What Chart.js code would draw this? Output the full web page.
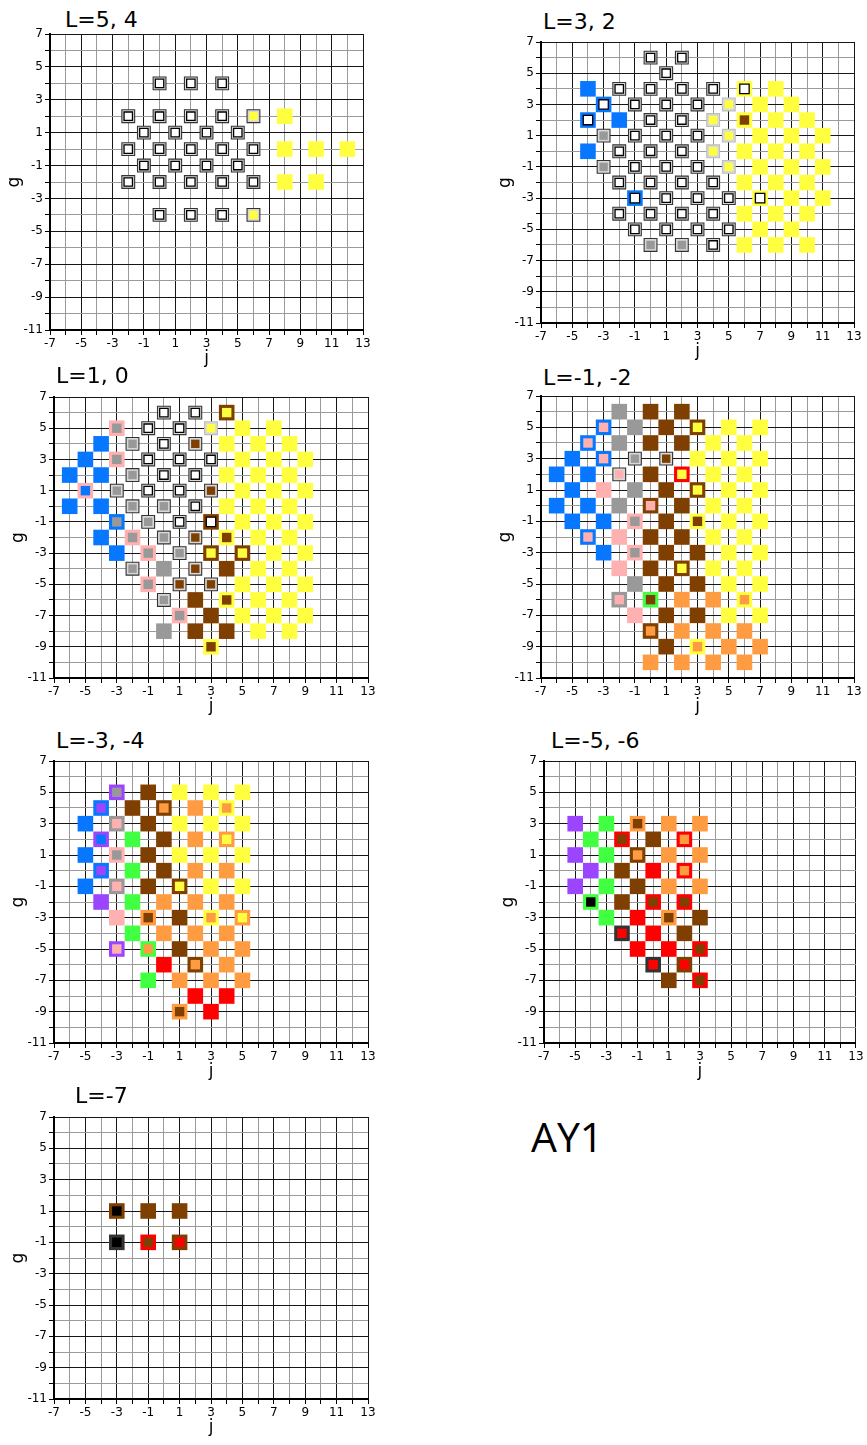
<!DOCTYPE html>
<html>
<head>
<meta charset="utf-8">
<script src="https://cdn.jsdelivr.net/npm/chart.js@4/dist/chart.umd.min.js"></script>
<style>
  html, body { margin: 0; padding: 0; background: #fff; }
  body { position: relative; width: 867px; height: 1445px; overflow: hidden; font-family: 'DejaVu Sans', sans-serif; }
  .ttl { position: absolute; font: 22px 'DejaVu Sans', sans-serif; line-height: 22px; white-space: nowrap; color: #000; }
  #tag { position: absolute; left: 531px; top: 1116px; font: 41px 'Open Sans', sans-serif; line-height: 41px; color: #000; }
</style>
</head>
<body>
<div id="tag">AY1</div>
<script>
// Each entry: [j, g, code]; code = ring colour + inner colour.
// W = white marker (outlined), w = white ring with a light outline.
const L5_4 = [
  [0,4,'WW'],[2,4,'WW'],[4,4,'WW'],
  [-2,2,'WW'],[0,2,'WW'],[2,2,'WW'],[4,2,'WW'],[6,2,'WY'],[8,2,'YY'],
  [-1,1,'WW'],[1,1,'WW'],[3,1,'WW'],[5,1,'WW'],
  [-2,0,'WW'],[0,0,'WW'],[2,0,'WW'],[4,0,'WW'],[6,0,'WW'],[8,0,'YY'],[10,0,'YY'],[12,0,'YY'],
  [-1,-1,'WW'],[1,-1,'WW'],[3,-1,'WW'],[5,-1,'WW'],
  [-2,-2,'WW'],[0,-2,'WW'],[2,-2,'WW'],[4,-2,'WW'],[6,-2,'WW'],[8,-2,'YY'],[10,-2,'YY'],
  [0,-4,'WW'],[2,-4,'WW'],[4,-4,'WW'],[6,-4,'WY']
];

const L3_2 = [
  [0,6,'WW'],[2,6,'WW'],
  [1,5,'WW'],
  [-4,4,'BB'],[-2,4,'WW'],[0,4,'WW'],[2,4,'WW'],[4,4,'WW'],[6,4,'YW'],[8,4,'YY'],
  [-3,3,'BW'],[-1,3,'WW'],[1,3,'WW'],[3,3,'WW'],[5,3,'wY'],[7,3,'YY'],[9,3,'YY'],
  [-4,2,'BW'],[-2,2,'BB'],[0,2,'WW'],[2,2,'WW'],[4,2,'wY'],[6,2,'YN'],[8,2,'YY'],[10,2,'YY'],
  [-3,1,'WG'],[-1,1,'WW'],[1,1,'WW'],[3,1,'WW'],[5,1,'wY'],[7,1,'YY'],[9,1,'YY'],[11,1,'YY'],
  [-4,0,'BB'],[-2,0,'WW'],[0,0,'WW'],[2,0,'WW'],[4,0,'wY'],[6,0,'YY'],[8,0,'YY'],[10,0,'YY'],
  [-3,-1,'WG'],[-1,-1,'WW'],[1,-1,'WW'],[3,-1,'WW'],[5,-1,'wY'],[7,-1,'YY'],[9,-1,'YY'],[11,-1,'YY'],
  [-2,-2,'WW'],[0,-2,'WW'],[2,-2,'WW'],[4,-2,'WW'],[6,-2,'YY'],[8,-2,'YY'],[10,-2,'YY'],
  [-1,-3,'BW'],[1,-3,'WW'],[3,-3,'WW'],[5,-3,'WW'],[7,-3,'YW'],[9,-3,'YY'],[11,-3,'YY'],
  [-2,-4,'WW'],[0,-4,'WW'],[2,-4,'WW'],[4,-4,'WW'],[6,-4,'YY'],[8,-4,'YY'],[10,-4,'YY'],
  [-1,-5,'WW'],[1,-5,'WW'],[3,-5,'WW'],[5,-5,'WW'],[7,-5,'YY'],[9,-5,'YY'],
  [0,-6,'WG'],[2,-6,'WG'],[4,-6,'WW'],[6,-6,'YY'],[8,-6,'YY'],[10,-6,'YY']
];

const L1_0 = [
  [0,6,'WW'],[2,6,'WW'],[4,6,'NY'],
  [-3,5,'PG'],[-1,5,'WW'],[1,5,'WW'],[3,5,'wY'],[5,5,'YY'],[7,5,'YY'],
  [-4,4,'BB'],[-2,4,'WG'],[0,4,'WW'],[2,4,'WN'],[4,4,'YY'],[6,4,'YY'],[8,4,'YY'],
  [-5,3,'BB'],[-3,3,'PG'],[-1,3,'WW'],[1,3,'WW'],[3,3,'WW'],[5,3,'YY'],[7,3,'YY'],[9,3,'YY'],
  [-6,2,'BB'],[-4,2,'BB'],[-2,2,'WG'],[0,2,'WW'],[2,2,'WW'],[4,2,'YY'],[6,2,'YY'],[8,2,'YY'],
  [-5,1,'PB'],[-3,1,'WG'],[-1,1,'WW'],[1,1,'WW'],[3,1,'WN'],[5,1,'YY'],[7,1,'YY'],[9,1,'YY'],
  [-6,0,'BB'],[-4,0,'BB'],[-2,0,'WG'],[0,0,'WG'],[2,0,'WW'],[4,0,'YY'],[6,0,'YY'],[8,0,'YY'],
  [-3,-1,'BG'],[-1,-1,'WG'],[1,-1,'WW'],[3,-1,'NW'],[5,-1,'YY'],[7,-1,'YY'],[9,-1,'YY'],
  [-4,-2,'BB'],[-2,-2,'PG'],[0,-2,'WG'],[2,-2,'WN'],[4,-2,'YN'],[6,-2,'YY'],[8,-2,'YY'],
  [-3,-3,'BB'],[-1,-3,'PG'],[1,-3,'WG'],[3,-3,'NY'],[5,-3,'NY'],[7,-3,'YY'],[9,-3,'YY'],
  [-2,-4,'WG'],[0,-4,'GG'],[2,-4,'WN'],[4,-4,'NN'],[6,-4,'YY'],[8,-4,'YY'],
  [-1,-5,'PG'],[1,-5,'WN'],[3,-5,'WN'],[5,-5,'YY'],[7,-5,'YY'],[9,-5,'YY'],
  [0,-6,'WG'],[2,-6,'NN'],[4,-6,'YN'],[6,-6,'YY'],[8,-6,'YY'],
  [1,-7,'PG'],[3,-7,'NN'],[5,-7,'YY'],[7,-7,'YY'],[9,-7,'YY'],
  [0,-8,'GG'],[2,-8,'NN'],[4,-8,'NN'],[6,-8,'YY'],[8,-8,'YY'],
  [3,-9,'YN']
];

const Lm1_m2 = [
  [-2,6,'GG'],[0,6,'NN'],[2,6,'NN'],
  [-3,5,'BP'],[-1,5,'GG'],[1,5,'NN'],[3,5,'NY'],[5,5,'YY'],[7,5,'YY'],
  [-4,4,'BP'],[-2,4,'GG'],[0,4,'NN'],[2,4,'NN'],[4,4,'YY'],[6,4,'YY'],
  [-5,3,'BB'],[-3,3,'BP'],[-1,3,'WG'],[1,3,'WN'],[3,3,'YY'],[5,3,'YY'],[7,3,'YY'],
  [-6,2,'BB'],[-4,2,'BB'],[-2,2,'WP'],[0,2,'NN'],[2,2,'RY'],[4,2,'YY'],[6,2,'YY'],
  [-5,1,'BB'],[-3,1,'PP'],[-1,1,'GG'],[1,1,'NN'],[3,1,'NY'],[5,1,'YY'],[7,1,'YY'],
  [-6,0,'BB'],[-4,0,'BB'],[-2,0,'GG'],[0,0,'NP'],[2,0,'NN'],[4,0,'YY'],[6,0,'YY'],
  [-5,-1,'BB'],[-3,-1,'BB'],[-1,-1,'PG'],[1,-1,'NN'],[3,-1,'YN'],[5,-1,'YY'],[7,-1,'YY'],
  [-4,-2,'BP'],[-2,-2,'PP'],[0,-2,'NN'],[2,-2,'NN'],[4,-2,'YY'],[6,-2,'YY'],
  [-3,-3,'BB'],[-1,-3,'PG'],[1,-3,'NN'],[3,-3,'NN'],[5,-3,'YY'],[7,-3,'YY'],
  [-2,-4,'PP'],[0,-4,'NN'],[2,-4,'NY'],[4,-4,'YY'],[6,-4,'YY'],
  [-1,-5,'GG'],[1,-5,'NN'],[3,-5,'NN'],[5,-5,'YY'],[7,-5,'YY'],
  [-2,-6,'GP'],[0,-6,'EN'],[2,-6,'OO'],[4,-6,'OO'],[6,-6,'YO'],
  [-1,-7,'PP'],[1,-7,'NN'],[3,-7,'NN'],[5,-7,'YY'],[7,-7,'YY'],
  [0,-8,'NO'],[2,-8,'OO'],[4,-8,'OO'],[6,-8,'OO'],
  [1,-9,'NN'],[3,-9,'YO'],[5,-9,'OO'],[7,-9,'OO'],
  [0,-10,'OO'],[2,-10,'OO'],[4,-10,'OO'],[6,-10,'OO']
];

const Lm3_m4 = [
  [-3,5,'VG'],[-1,5,'NN'],[1,5,'YY'],[3,5,'YY'],[5,5,'YY'],
  [-4,4,'BV'],[-2,4,'NN'],[0,4,'NO'],[2,4,'OO'],[4,4,'YO'],
  [-5,3,'BB'],[-3,3,'GP'],[-1,3,'NN'],[1,3,'YY'],[3,3,'YY'],[5,3,'YY'],
  [-4,2,'VB'],[-2,2,'EE'],[0,2,'NN'],[2,2,'OO'],[4,2,'OY'],
  [-5,1,'BB'],[-3,1,'PG'],[-1,1,'NN'],[1,1,'YY'],[3,1,'YY'],[5,1,'YY'],
  [-4,0,'BV'],[-2,0,'EE'],[0,0,'NN'],[2,0,'OO'],[4,0,'OO'],
  [-5,-1,'BB'],[-3,-1,'GP'],[-1,-1,'NN'],[1,-1,'NY'],[3,-1,'YY'],[5,-1,'YY'],
  [-4,-2,'VV'],[-2,-2,'EE'],[0,-2,'OO'],[2,-2,'OO'],[4,-2,'OO'],
  [-3,-3,'PP'],[-1,-3,'ON'],[1,-3,'NN'],[3,-3,'YO'],[5,-3,'OY'],
  [-2,-4,'EE'],[0,-4,'OO'],[2,-4,'OO'],[4,-4,'OO'],
  [-3,-5,'VP'],[-1,-5,'EO'],[1,-5,'NN'],[3,-5,'OO'],[5,-5,'OO'],
  [0,-6,'RR'],[2,-6,'NO'],[4,-6,'OO'],
  [-1,-7,'EE'],[1,-7,'OO'],[3,-7,'OO'],[5,-7,'OO'],
  [2,-8,'RR'],[4,-8,'RR'],
  [1,-9,'ON'],[3,-9,'RR']
];

const Lm5_m6 = [
  [-5,3,'VV'],[-3,3,'EE'],[-1,3,'ON'],[1,3,'OO'],[3,3,'OO'],
  [-4,2,'EE'],[-2,2,'RN'],[0,2,'NN'],[2,2,'RO'],
  [-5,1,'VV'],[-3,1,'EE'],[-1,1,'NO'],[1,1,'OO'],[3,1,'OO'],
  [-4,0,'VV'],[-2,0,'NN'],[0,0,'RR'],[2,0,'RO'],
  [-5,-1,'VV'],[-3,-1,'EE'],[-1,-1,'NN'],[1,-1,'OO'],[3,-1,'OO'],
  [-4,-2,'EK'],[-2,-2,'NN'],[0,-2,'RN'],[2,-2,'RN'],
  [-3,-3,'EE'],[-1,-3,'RR'],[1,-3,'ON'],[3,-3,'NN'],
  [-2,-4,'DR'],[0,-4,'RR'],[2,-4,'NN'],
  [-1,-5,'RR'],[1,-5,'RR'],[3,-5,'RN'],
  [0,-6,'DR'],[2,-6,'NR'],
  [1,-7,'NN'],[3,-7,'RN']
];

const Lm7 = [
  [-3,1,'NK'],[-1,1,'NN'],[1,1,'NN'],
  [-3,-1,'DK'],[-1,-1,'RN'],[1,-1,'NR']
];

// Axis extents
const J_MIN = -7, J_MAX = 13;
const G_MIN = -11, G_MAX = 7;

const PALETTE = {
  W: '#ffffff', G: '#999999', Y: '#ffff3f', B: '#0877ff', N: '#7f3f00',
  P: '#ffb0b0', O: '#ff9c42', R: '#ff0000', V: '#9b45ff', E: '#41ff41',
  K: '#000000', D: '#333333'
};

// Panel layout: plot rectangle [left, top, right, bottom] and title anchor
const PANELS = [
  { title: 'L=5, 4',   pts: L5_4,   plot: [50, 34, 363, 330],    tx: 65,  ty: 9 },
  { title: 'L=3, 2',   pts: L3_2,   plot: [541, 42, 854, 323],   tx: 543, ty: 11 },
  { title: 'L=1, 0',   pts: L1_0,   plot: [54, 397, 368, 678],   tx: 56,  ty: 365 },
  { title: 'L=-1, -2', pts: Lm1_m2, plot: [541, 396, 854, 678],  tx: 543, ty: 367 },
  { title: 'L=-3, -4', pts: Lm3_m4, plot: [54, 761, 368, 1043],  tx: 56,  ty: 730 },
  { title: 'L=-5, -6', pts: Lm5_m6, plot: [544, 761, 858, 1043], tx: 551, ty: 730 },
  { title: 'L=-7',     pts: Lm7,    plot: [54, 1117, 368, 1399], tx: 75,  ty: 1085 }
];

const PAD_TOP = 12, Y_AXIS_W = 50, X_AXIS_H = 42;
// square side lengths in px; Chart.js 'rect' radius r gives a side of r*sqrt(2)
const SIDE_PLAIN = 15.6, SIDE_RING_INNER = 9.4, SIDE_W_OUTER = 12.8, SIDE_W_INNER = 8.4;
const rad = s => s / Math.SQRT2;

function markerLayers(pts) {
  const outer = { data: [], r: [], bg: [], bc: [], bw: [] };
  const inner = { data: [], r: [], bg: [], bc: [], bw: [] };
  pts.forEach(([j, g, code]) => {
    const ring = code[0], fill = code[1];
    const whiteRing = ring === 'W' || ring === 'w';
    outer.data.push({ x: j, y: g });
    if (whiteRing) {
      outer.r.push(rad(SIDE_W_OUTER));
      outer.bg.push('#d8d8d8');
      outer.bc.push(ring === 'W' ? '#333333' : '#bdbdbd');
      outer.bw.push(1.1);
    } else {
      outer.r.push(rad(SIDE_PLAIN));
      outer.bg.push(PALETTE[ring]);
      outer.bc.push(PALETTE[ring]);
      outer.bw.push(0);
    }
    if (whiteRing || ring !== fill) {
      inner.data.push({ x: j, y: g });
      inner.r.push(rad(whiteRing ? SIDE_W_INNER : SIDE_RING_INNER));
      inner.bg.push(PALETTE[fill]);
      inner.bc.push('#000000');
      inner.bw.push(fill === 'W' ? 1.3 : 0);
    }
  });
  return { outer, inner };
}

const isOdd = v => Math.abs(Math.round(v)) % 2 === 1;
const gridColor = ctx => (ctx.tick && isOdd(ctx.tick.value)) ? '#161616' : '#9a9a9a';
const tickFont = { family: 'DejaVu Sans', size: 12 };
const titleFont = { family: 'DejaVu Sans', size: 17 };

function axis(min, max, extra) {
  return Object.assign({
    type: 'linear', min, max,
    ticks: {
      stepSize: 1, autoSkip: false, maxRotation: 0, padding: 2, color: '#000', font: tickFont,
      callback: v => isOdd(v) ? String(v) : ''
    },
    grid: { color: gridColor, lineWidth: 1, tickLength: 5, tickColor: '#000', tickWidth: 1 },
    border: { display: true, color: '#000', width: 2 }
  }, extra);
}

PANELS.forEach(p => {
  const [L, T, R, B] = p.plot;
  const padR = Math.min(12, 867 - R);

  const t = document.createElement('div');
  t.className = 'ttl';
  t.style.left = p.tx + 'px';
  t.style.top = p.ty + 'px';
  t.textContent = p.title;
  document.body.appendChild(t);

  const cv = document.createElement('canvas');
  cv.width = Y_AXIS_W + (R - L) + padR;
  cv.height = PAD_TOP + (B - T) + X_AXIS_H;
  cv.style.cssText = `position:absolute;left:${L - Y_AXIS_W}px;top:${T - PAD_TOP}px;`;
  document.body.appendChild(cv);

  const { outer, inner } = markerLayers(p.pts);

  new Chart(cv, {
    type: 'scatter',
    data: {
      datasets: [
        { data: inner.data, order: 0, pointStyle: 'rect', pointRadius: inner.r,
          pointBackgroundColor: inner.bg, pointBorderColor: inner.bc, pointBorderWidth: inner.bw },
        { data: outer.data, order: 1, pointStyle: 'rect', pointRadius: outer.r,
          pointBackgroundColor: outer.bg, pointBorderColor: outer.bc, pointBorderWidth: outer.bw }
      ]
    },
    options: {
      responsive: false, animation: false, events: [],
      layout: { padding: { top: PAD_TOP, right: padR, left: 0, bottom: 0 } },
      plugins: { legend: { display: false }, tooltip: { enabled: false }, title: { display: false } },
      scales: {
        x: axis(J_MIN, J_MAX, {
          afterFit: s => { s.height = X_AXIS_H; },
          title: { display: true, text: 'j', color: '#000', font: titleFont, padding: { top: 0, bottom: 3 } }
        }),
        y: axis(G_MIN, G_MAX, {
          afterFit: s => { s.width = Y_AXIS_W; },
          title: { display: true, text: 'g', color: '#000', font: titleFont, padding: { top: 4, bottom: 0 } }
        })
      }
    }
  });
});
</script>
</body>
</html>
